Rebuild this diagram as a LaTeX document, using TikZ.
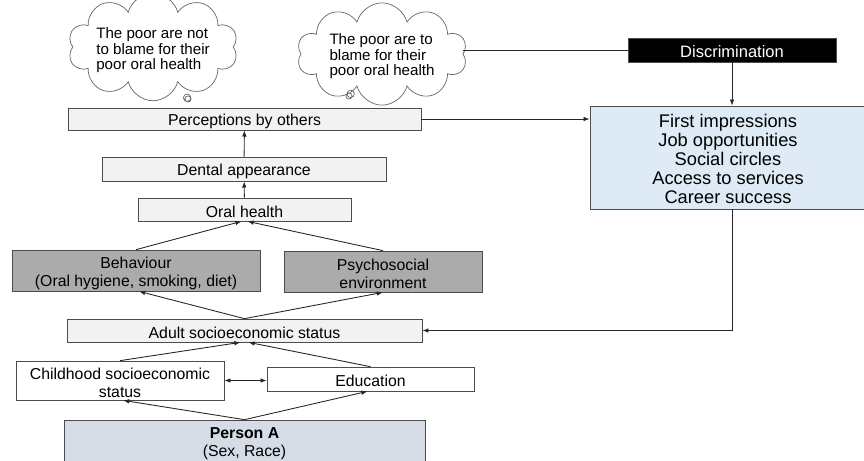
\documentclass[tikz,border=0pt]{standalone}
\usepackage{fontspec}
\setmainfont{Liberation Sans}
\usetikzlibrary{shapes.callouts,arrows.meta}
\colorlet{paleGray}{black!5}
\colorlet{midGray}{black!33}
\colorlet{edgeGray}{black!70}
\definecolor{paleBlue}{HTML}{DEEBF7}
\definecolor{slateBlue}{HTML}{D6DCE5}
\newcommand{\lift}[1]{\rule{0pt}{#1}}

\tikzset{
  box/.style={draw=edgeGray, fill=paleGray, inner sep=0pt, align=center,
    font=\fontsize{9}{10.3}\selectfont},
  think/.style={cloud callout, draw=black!60, fill=white, cloud puffs=10,
    cloud ignores aspect, inner sep=0pt, align=left,
    callout pointer start size=5pt, callout pointer end size=3.5pt,
    font=\fontsize{8.6}{8.8}\selectfont},
  link/.style={draw=black!85, line width=0.5pt, -{Latex[length=3.5pt,width=2.6pt]}},
}

\begin{document}
\begin{tikzpicture}[x=0.02cm, y=-0.02cm]
    \useasboundingbox (0,0) rectangle (864,460);
    % thought bubbles
    \node[think, minimum width=3.3cm, minimum height=1.54cm,
      callout absolute pointer={(188,99)}] (notblame) at (153,47)
      {\lift{10pt}The poor are not\\to blame for their\\poor oral health};
    \node[think, minimum width=3.4cm, minimum height=1.44cm,
      callout absolute pointer={(349,96)}] (blame) at (382,54)
      {\lift{9pt}The poor are to\\blame for their\\poor oral health};
    \node[box, fill=black, text=white, minimum width=4.16cm, minimum height=0.48cm,
      font=\fontsize{9.4}{10}\selectfont] (disc) at (732,50) {\lift{8.9pt}Discrimination};
    \node[box, fill=paleBlue, minimum width=5.52cm, minimum height=2.06cm,
      font=\fontsize{10.4}{10.8}\selectfont] (effects) at (728,157.5)
      {\lift{9.5pt}First impressions\\Job opportunities\\Social circles\\Access to services\\Career success};
    % left column
    \node[box, minimum width=7.06cm, minimum height=0.44cm] (percep) at (244.5,119) {\lift{8.7pt}Perceptions by others};
    \node[box, minimum width=5.68cm, minimum height=0.48cm] (dental) at (244,169) {\lift{8.7pt}Dental appearance};
    \node[box, minimum width=4.26cm, minimum height=0.46cm] (oral) at (244.5,209.5) {\lift{8.7pt}Oral health};
    \node[box, fill=midGray, minimum width=4.96cm, minimum height=0.82cm] (behav) at (136,270.5) {\lift{9.4pt}Behaviour\\(Oral hygiene, smoking, diet)};
    \node[box, fill=midGray, minimum width=3.96cm, minimum height=0.82cm] (psycho) at (383,271.5) {\lift{9.4pt}Psychosocial\\environment};
    \node[box, minimum width=7.1cm, minimum height=0.46cm] (adult) at (244.5,330.5) {\lift{8.7pt}Adult socioeconomic status};
    \node[box, fill=white, minimum width=4.16cm, minimum height=0.78cm] (child) at (120,380.5) {\lift{8.7pt}Childhood socioeconomic\\status};
    \node[box, fill=white, minimum width=4.14cm, minimum height=0.48cm] (educ) at (370.5,379) {\lift{8.7pt}Education};
    \node[box, fill=slateBlue, minimum width=7.22cm, minimum height=0.84cm] (person) at (244.5,441) {\lift{9.4pt}\textbf{Person A}\\(Sex, Race)};

    % connectors
    \draw[draw=black!85, line width=0.5pt] (blame.east |- disc) -- (disc.west);
    \draw[link] (disc) -- (disc |- effects.north);
    \draw[link] (percep.east) -- (effects.west |- percep);
    \draw[link] (effects.south -| disc) |- (adult.east);
    \draw[link] (dental) -- (percep);
    \draw[link] (oral) -- (dental);
    \draw[link] (behav.north) -- ([xshift=-0.06cm]oral.south);
    \draw[link] (psycho.north) -- ([xshift=0.06cm]oral.south);
    \draw[link] (adult.north) -- ([xshift=0.06cm]behav.south);
    \draw[link] (adult.north) -- (psycho.south);
    \draw[link] (child.north) -- ([xshift=-0.08cm]adult.south);
    \draw[link] (educ.north) -- ([xshift=0.08cm]adult.south);
    \draw[link, {Latex[length=3.5pt,width=2.6pt]}-{Latex[length=3.5pt,width=2.6pt]}] (child.east) -- (educ.west |- child);
    \draw[link] (person.north) -- ([xshift=0.06cm]child.south);
    \draw[link] (person.north) -- ([xshift=-0.06cm]educ.south);
\end{tikzpicture}
\end{document}
